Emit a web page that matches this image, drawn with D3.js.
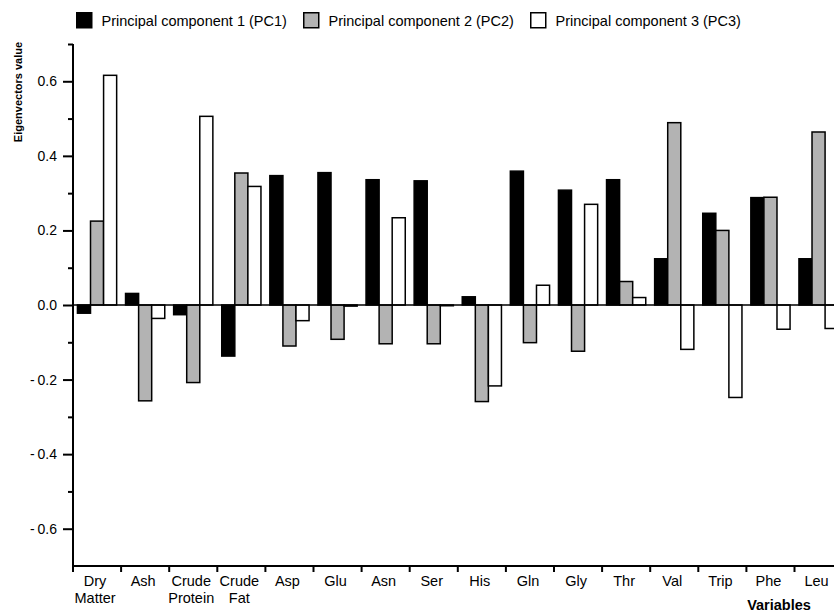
<!DOCTYPE html>
<html>
<head>
<meta charset="utf-8">
<script src="https://cdn.jsdelivr.net/npm/d3@7"></script>
<style>
  html, body { margin: 0; padding: 0; background: #fff; }
  svg { display: block; font-family: "Liberation Sans", Arial, Helvetica, sans-serif; }
</style>
</head>
<body>
<svg id="chart" width="834" height="613"></svg>
<script>
// Variables on the x axis (a space marks a line break in the label)
const categories = ["Dry Matter", "Ash", "Crude Protein", "Crude Fat", "Asp", "Glu", "Asn", "Ser",
                    "His", "Gln", "Gly", "Thr", "Val", "Trip", "Phe", "Leu"];

// Eigenvector loadings per principal component
const pc1 = [-0.022, 0.031, -0.026, -0.137, 0.347, 0.355, 0.336, 0.333,
             0.022, 0.359, 0.308, 0.336, 0.124, 0.246, 0.288, 0.124];
const pc2 = [0.225, -0.257, -0.208, 0.354, -0.110, -0.092, -0.104, -0.104,
             -0.259, -0.101, -0.124, 0.063, 0.489, 0.200, 0.289, 0.464];
const pc3 = [0.616, -0.036, 0.506, 0.318, -0.042, -0.003, 0.234, -0.002,
             -0.217, 0.053, 0.270, 0.020, -0.119, -0.248, -0.065, -0.063];

const seriesNames = ["Principal component 1 (PC1)", "Principal component 2 (PC2)", "Principal component 3 (PC3)"];
const seriesFills = ["#000000", "#b3b3b3", "#ffffff"];

const majorTicks = [-0.6, -0.4, -0.2, 0.0, 0.2, 0.4, 0.6];
const minorTicks = [-0.5, -0.3, -0.1, 0.1, 0.3, 0.5, 0.7];

const yLabel = "Eigenvectors value";
const xLabel = "Variables";

const series = [pc1, pc2, pc3];
const svg = d3.select("#chart");

const plotLeft = 73, plotTop = 44, plotBottom = 566, bandStep = 48.1;

const y = d3.scaleLinear().domain([-0.7, 0.7]).range([plotBottom, plotTop]);
const x0 = d3.scaleBand().domain(categories)
  .range([plotLeft, plotLeft + bandStep * categories.length]).padding(0);
const x1 = d3.scaleBand().domain(d3.range(series.length)).range([0, x0.bandwidth()])
  .paddingInner(0).paddingOuter(0.34);

const fmt = v => (v < 0 ? "-\u2009" : "") + Math.abs(v).toFixed(1);

// Bars
const groups = svg.append("g").selectAll("g")
  .data(categories)
  .join("g")
  .attr("transform", d => `translate(${x0(d)},0)`);

groups.selectAll("rect")
  .data((d, i) => series.map((s, k) => ({ k, v: s[i] })))
  .join("rect")
  .attr("x", d => x1(d.k))
  .attr("width", x1.bandwidth())
  .attr("y", d => y(Math.max(0, d.v)))
  .attr("height", d => Math.abs(y(d.v) - y(0)))
  .attr("fill", d => seriesFills[d.k])
  .attr("stroke", "#000")
  .attr("stroke-width", 1.5);

// Zero line
svg.append("line")
  .attr("x1", plotLeft).attr("x2", 834)
  .attr("y1", y(0)).attr("y2", y(0))
  .attr("stroke", "#000").attr("stroke-width", 1.5);

// Y axis: major ticks with labels, minor ticks without
const yAxis = svg.append("g").attr("transform", `translate(${plotLeft},0)`)
  .call(d3.axisLeft(y).tickValues(majorTicks).tickFormat(fmt).tickSize(10).tickPadding(6));
svg.append("g").attr("transform", `translate(${plotLeft},0)`)
  .call(d3.axisLeft(y).tickValues(minorTicks).tickFormat("").tickSize(5))
  .call(g => g.select(".domain").remove());

svg.selectAll("g.tick line").attr("stroke", "#000").attr("stroke-width", 2);
yAxis.select(".domain").attr("stroke", "#000").attr("stroke-width", 2)
  .attr("d", `M0,${plotTop}V${plotBottom + 3}`);
yAxis.selectAll("text").attr("font-size", 14).attr("fill", "#000")
  .attr("font-family", "'Liberation Sans', Arial, sans-serif");

// X axis: line and downward ticks at band boundaries
const boundaries = categories.map(c => x0(c));
svg.append("line")
  .attr("x1", plotLeft).attr("x2", 834)
  .attr("y1", plotBottom).attr("y2", plotBottom)
  .attr("stroke", "#000").attr("stroke-width", 2);
svg.append("g").selectAll("line")
  .data(boundaries)
  .join("line")
  .attr("x1", d => d).attr("x2", d => d)
  .attr("y1", plotBottom).attr("y2", plotBottom + 6)
  .attr("stroke", "#000").attr("stroke-width", 2);

// Category labels
svg.append("g").selectAll("text")
  .data(categories)
  .join("text")
  .attr("x", d => x0(d) + x0.bandwidth() / 2 - 2)
  .attr("y", 586)
  .attr("text-anchor", "middle")
  .attr("font-size", 14.5)
  .attr("fill", "#000")
  .each(function (d) {
    const parts = d.split(" ");
    const t = d3.select(this);
    parts.forEach((p, i) => {
      t.append("tspan")
        .attr("x", x0(d) + x0.bandwidth() / 2 - 2)
        .attr("dy", i === 0 ? 0 : 16.5)
        .text(p);
    });
  });

// Axis titles
svg.append("text")
  .attr("transform", "translate(22,92) rotate(-90)")
  .attr("text-anchor", "middle")
  .attr("font-size", 11)
  .attr("font-weight", "bold")
  .text(yLabel);

svg.append("text")
  .attr("x", 779).attr("y", 610)
  .attr("text-anchor", "middle")
  .attr("font-size", 14.5)
  .attr("font-weight", "bold")
  .text(xLabel);

// Legend
const legendX = [76, 303, 530];
const legend = svg.append("g").selectAll("g")
  .data(seriesNames)
  .join("g")
  .attr("transform", (d, i) => `translate(${legendX[i]},12)`);
legend.append("rect")
  .attr("x", 0.75).attr("y", 0.75)
  .attr("width", 15).attr("height", 15)
  .attr("fill", (d, i) => seriesFills[i])
  .attr("stroke", "#000").attr("stroke-width", 1.5);
legend.append("text")
  .attr("x", 25.5).attr("y", 13.5)
  .attr("font-size", 14.5)
  .attr("fill", "#000")
  .text(d => d);
</script>
</body>
</html>
